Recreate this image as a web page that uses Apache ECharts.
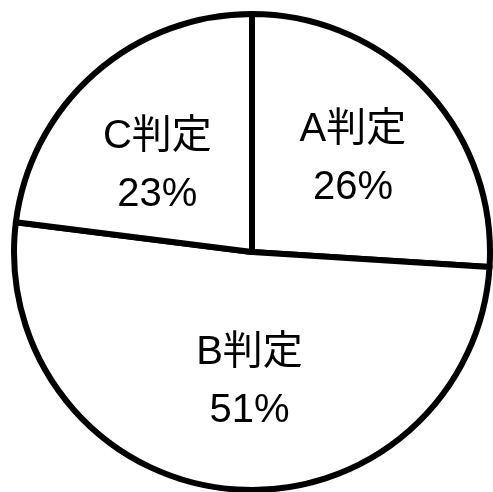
<!DOCTYPE html>
<html>
<head>
<meta charset="utf-8">
<script src="https://cdn.jsdelivr.net/npm/echarts@6/dist/echarts.min.js"></script>
<style>
  html, body { margin: 0; padding: 0; background: #fff; }
  #myChart { width: 493px; height: 492px; }
</style>
</head>
<body>
<div id="myChart"></div>
<script>
// 判定ごとの割合
const categories = ["A判定", "B判定", "C判定"];
const values = [26, 51, 23];

const myChart = echarts.init(document.getElementById("myChart"));

// ラベルを少し外側に寄せる
const labelShift = {
  "A判定": [12, -10],
  "B判定": [9, 9],
  "C判定": [-14, 5]
};

const data = categories.map(function(name, i) {
  return {
    name: name,
    value: values[i],
    label: { offset: labelShift[name] }
  };
});

myChart.setOption({
  animation: false,
  series: [
    {
      type: "pie",
      center: [252, 252],
      radius: [0, 238],
      startAngle: 90,
      clockwise: true,
      data: data,
      itemStyle: {
        color: "#fff",
        borderColor: "#000",
        borderWidth: 6
      },
      label: {
        show: true,
        position: "inside",
        formatter: "{b}\n{d}%",
        color: "#000",
        fontSize: 40,
        lineHeight: 58,
        fontFamily: "'Liberation Sans', 'Noto Sans CJK JP', sans-serif"
      },
      labelLine: { show: false },
      emphasis: { disabled: true }
    }
  ]
});
</script>
</body>
</html>
